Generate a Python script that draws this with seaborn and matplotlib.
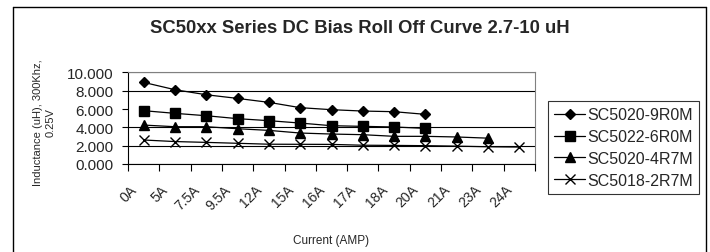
import matplotlib
matplotlib.use("Agg")
import matplotlib.pyplot as plt
import seaborn as sns
import pandas as pd
from matplotlib.lines import Line2D
from matplotlib.ticker import FixedLocator, FormatStrFormatter
from matplotlib.transforms import ScaledTranslation

# ---- data ----
categories = ["0A", "5A", "7.5A", "9.5A", "12A", "15A", "16A", "17A", "18A",
              "20A", "21A", "23A", "24A"]
series_names = ["SC5020-9R0M", "SC5022-6R0M", "SC5020-4R7M", "SC5018-2R7M"]
sc5020_9r0m = [8.91, 8.11, 7.56, 7.16, 6.73, 6.15, 5.93, 5.78, 5.71, 5.42]
sc5022_6r0m = [5.82, 5.53, 5.27, 4.95, 4.73, 4.47, 4.18, 4.11, 4.04, 3.89]
sc5020_4r7m = [4.25, 4.07, 4.07, 3.85, 3.67, 3.38, 3.27, 3.20, 3.02, 3.02, 2.95, 2.82]
sc5018_2r7m = [2.62, 2.45, 2.36, 2.26, 2.16, 2.15, 2.14, 2.05, 2.03, 2.00, 1.95, 1.88, 1.85]
y_ticks = [0, 2, 4, 6, 8, 10]

series_values = [sc5020_9r0m, sc5022_6r0m, sc5020_4r7m, sc5018_2r7m]
rows = []
for name, vals in zip(series_names, series_values):
    for cat, v in zip(categories, vals):
        rows.append({"series": name, "current": cat, "inductance": v})
df = pd.DataFrame(rows)
df["current"] = pd.Categorical(df["current"], categories=categories, ordered=True)

# ---- style ----
sns.set_style("ticks")
plt.rcParams["font.family"] = ["Liberation Sans", "DejaVu Sans"]

W, H = 710, 253
fig = plt.figure(figsize=(W / 100, H / 100), dpi=100)
ax_l, ax_r, ax_t, ax_b = 128, 535, 73.4, 165
ax = fig.add_axes([ax_l / W, 1 - ax_b / H, (ax_r - ax_l) / W, (ax_b - ax_t) / H])

styles = {
    "SC5020-9R0M": dict(marker="D", markersize=5.5, line="black"),
    "SC5022-6R0M": dict(marker="s", markersize=6.5, line="black"),
    "SC5020-4R7M": dict(marker="^", markersize=7, line="#404040"),
    "SC5018-2R7M": dict(marker="x", markersize=7, line="#707070"),
}
for name in series_names:
    st = styles[name]
    sub = df[df["series"] == name]
    sns.lineplot(data=sub, x="current", y="inductance", sort=False, ax=ax,
                 color=st["line"], linewidth=0.9, marker=st["marker"],
                 markersize=st["markersize"], markerfacecolor="black",
                 markeredgecolor="black", markeredgewidth=1.0, label=name,
                 legend=False)

ax.set_xlim(-0.5, len(categories) - 0.5)
ax.set_ylim(0, 10)

# x ticks: labels at centres, tick marks at boundaries
ax.xaxis.set_major_locator(FixedLocator(range(len(categories))))
ax.set_xticklabels(categories)
ax.xaxis.set_minor_locator(FixedLocator([i - 0.5 for i in range(len(categories) + 1)]))
ax.tick_params(axis="x", which="major", length=0, pad=16.5, labelsize=10)
ax.tick_params(axis="x", which="minor", length=5, width=0.8, color="black",
               direction="out")
shift = ScaledTranslation(-9 / 100, 0, fig.dpi_scale_trans)
for lab in ax.get_xticklabels():
    lab.set_rotation(45)
    lab.set_ha("right")
    lab.set_va("center")
    lab.set_rotation_mode("anchor")
    lab.set_transform(lab.get_transform() + shift)

# y ticks
ax.set_yticks(y_ticks)
ax.yaxis.set_major_formatter(FormatStrFormatter("%.3f"))
ax.tick_params(axis="y", length=4, width=0.8, color="black", direction="out",
               pad=6.5, labelsize=11)

ax.yaxis.grid(True, color="black", linewidth=0.8)
ax.xaxis.grid(False)
ax.set_axisbelow(True)
for t in ax.yaxis.get_major_ticks():
    if abs(t.get_loc() - 10) < 1e-9:
        t.gridline.set_visible(False)

for side in ["top", "right"]:
    ax.spines[side].set_color("#808080")
    ax.spines[side].set_linewidth(0.8)
for side in ["left", "bottom"]:
    ax.spines[side].set_color("black")
    ax.spines[side].set_linewidth(0.8)

ax.set_xlabel("Current (AMP)", fontsize=8.5)
ax.xaxis.set_label_coords(0.5, -(235 - ax_b) / (ax_b - ax_t))
ax.set_ylabel("Inductance (uH), 300Khz,\n0.25V", fontsize=8, linespacing=1.4)
ax.yaxis.set_label_coords(-(ax_l - 56) / (ax_r - ax_l), (ax_b - 123) / (ax_b - ax_t))

fig.suptitle("SC50xx Series DC Bias Roll Off Curve 2.7-10 uH", x=360 / W,
             y=1 - 28.5 / H, va="center", fontsize=13.3, fontweight="bold")

handles, labels = ax.get_legend_handles_labels()
for h in handles:
    h.set_color("black")
leg = fig.legend(handles, labels, loc="upper left",
                 bbox_to_anchor=(548 / W, 1 - 102 / H), borderaxespad=0,
                 fontsize=11.5, frameon=True, fancybox=False, handlelength=1.9,
                 handletextpad=0.15, labelspacing=0.42, borderpad=0.4)
leg.get_frame().set_edgecolor("black")
leg.get_frame().set_linewidth(0.8)

# outer chart frame (bottom edge is outside the crop)
fig.add_artist(Line2D([12.5 / W, 12.5 / W], [0, 1 - 7.5 / H], color="black", lw=1.0))
fig.add_artist(Line2D([12.5 / W, 705.5 / W], [1 - 7.5 / H, 1 - 7.5 / H], color="black", lw=1.0))
fig.add_artist(Line2D([705.5 / W, 705.5 / W], [0, 1 - 7.5 / H], color="black", lw=1.0))

fig.savefig("out.png", dpi=100)
